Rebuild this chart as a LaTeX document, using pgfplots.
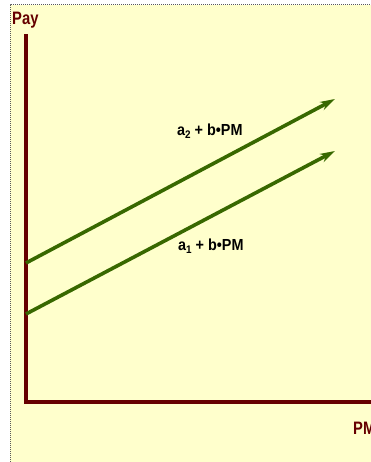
\documentclass[border=0pt]{standalone}
\usepackage{pgfplots}
\pgfplotsset{compat=1.18}
\usepackage{fontspec}
\setmainfont{Liberation Sans}[FakeStretch=0.82]
\newfontfamily\lblfont{Liberation Sans}[FakeStretch=0.9]
\usetikzlibrary{arrows.meta}
\definecolor{bgy}{RGB}{255,255,204}
\definecolor{maroon}{RGB}{102,0,0}
\definecolor{grn}{RGB}{56,104,0}
\begin{document}
\begin{tikzpicture}[x=1pt,y=1pt]
\useasboundingbox (0,0) rectangle (371,462);
\clip (0,0) rectangle (371,462);
\fill[white] (0,0) rectangle (371,462);
\fill[bgy] (10,0) rectangle (371,457);
\draw[gray!70!black, line width=1pt, dash pattern=on 1pt off 1pt] (10,0) -- (10,457) -- (371,457);
\begin{axis}[
  at={(26pt,60pt)}, anchor=south west,
  scale only axis, width=345pt, height=366pt,
  xmin=0, xmax=345, ymin=0, ymax=366,
  axis lines=left,
  axis line style={-, color=maroon, line width=4pt, line cap=rect},
  ticks=none, clip=false,
]
\addplot[grn, line width=3.6pt, -{Stealth[length=15pt,width=9pt]}] coordinates {(0,88) (309,251)};
\addplot[grn, line width=3.6pt, -{Stealth[length=15pt,width=9pt]}] coordinates {(0,139) (309,303)};
\end{axis}
\node[anchor=base west, inner sep=0, text=maroon, font=\bfseries\fontsize{18}{20}\selectfont] at (12,437) {Pay};
\node[anchor=base west, inner sep=0, text=maroon, font=\bfseries\fontsize{18}{20}\selectfont] at (353,27) {PM};
\node[anchor=base west, inner sep=0, font=\lblfont\bfseries\fontsize{16}{18}\selectfont] at (177,326) {a\raisebox{-0.3ex}{\fontsize{11}{12}\selectfont 2} + b\textbullet PM};
\node[anchor=base west, inner sep=0, font=\lblfont\bfseries\fontsize{16}{18}\selectfont] at (178,211) {a\raisebox{-0.3ex}{\fontsize{11}{12}\selectfont 1} + b\textbullet PM};
\end{tikzpicture}
\end{document}
